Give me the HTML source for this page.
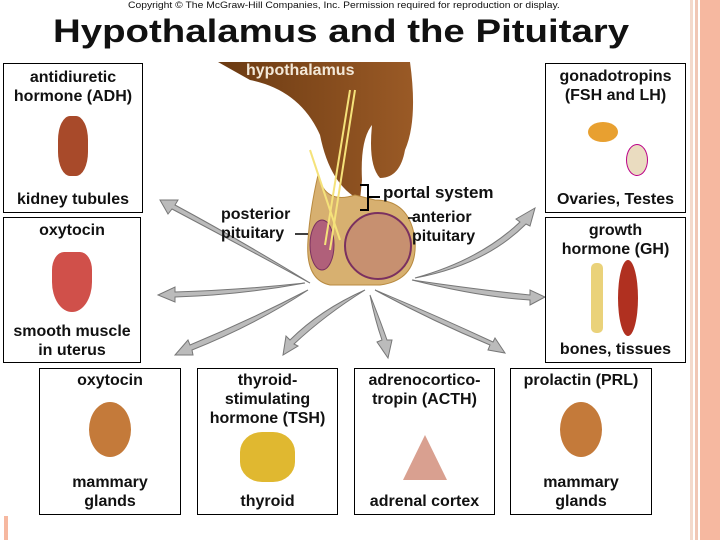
<!DOCTYPE html>
<html><head><meta charset="utf-8"><style>
body{margin:0;width:720px;height:540px;overflow:hidden;background:#fff;font-family:"Liberation Sans",Arial,sans-serif;position:relative}
.box{position:absolute;border:1.5px solid #000;background:#fff;box-sizing:border-box;text-align:center;font-weight:bold;font-size:16px;line-height:19px;color:#111}
.t{position:absolute;font-weight:bold;color:#111}
</style></head><body>
<div class="t" style="left:128px;top:0;font-size:9px;font-weight:normal;transform:scaleX(1.15);transform-origin:left top;white-space:nowrap">Copyright © The McGraw-Hill Companies, Inc. Permission required for reproduction or display.</div>
<div class="t" style="left:53px;top:13px;font-size:32px;transform:scaleX(1.2);transform-origin:left top;white-space:nowrap">Hypothalamus and the Pituitary</div>
<div style="position:absolute;left:690px;top:0;width:3px;height:540px;background:#f3d9cc"></div>
<div style="position:absolute;left:695px;top:0;width:3px;height:540px;background:#f0c7b6"></div>
<div style="position:absolute;left:700px;top:0;width:20px;height:540px;background:#f6b8a0"></div>
<div style="position:absolute;left:4px;top:516px;width:4px;height:24px;background:#f6b8a0"></div>
<svg width="720" height="540" style="position:absolute;left:0;top:0">
<defs><linearGradient id="g" x1="0" x2="1"><stop offset="0" stop-color="#6b3a12"/><stop offset="1" stop-color="#9a5a26"/></linearGradient></defs>
<path d="M218 62 L410 62 Q418 120 405 150 Q400 178 380 178 Q368 165 372 125 Q360 140 362 180 L360 200 Q330 185 320 135 Q300 90 250 80 Z" fill="url(#g)"/>
<path d="M318 175 Q325 205 355 195 L375 200 Q410 200 415 240 Q418 280 380 285 L330 285 Q305 280 308 240 Q310 210 318 175Z" fill="#d7b070" stroke="#b88a40"/>
<ellipse cx="378" cy="246" rx="33" ry="33" fill="#c79070" stroke="#7a3060" stroke-width="2"/>
<ellipse cx="322" cy="245" rx="12" ry="25" fill="#b0607a" stroke="#7a3060"/>
<g stroke="#f5e27a" stroke-width="2" fill="none"><path d="M355 90 L330 250"/><path d="M350 90 L325 245"/><path d="M310 150 L340 240"/></g>
<g fill="#bbb" stroke="#777" stroke-width="1">
<path d="M310 283 Q240 240 175 205 L178 200 L160 200 L168 214 L172 209 Q240 245 310 283Z"/>
<path d="M305 283 Q240 290 175 292 L175 287 L158 295 L175 302 L175 297 Q240 295 305 283Z"/>
<path d="M308 290 Q250 320 190 345 L188 340 L175 355 L193 355 L192 350 Q255 325 308 290Z"/>
<path d="M365 290 Q320 310 290 340 L286 336 L283 355 L298 346 L294 344 Q325 315 365 290Z"/>
<path d="M370 295 Q375 320 382 340 L377 342 L388 358 L392 340 L387 340 Q380 320 370 295Z"/>
<path d="M375 290 Q430 320 490 345 L488 350 L505 353 L495 338 L493 342 Q435 315 375 290Z"/>
<path d="M412 280 Q480 290 530 295 L530 290 L545 297 L530 305 L530 300 Q480 297 412 280Z"/>
<path d="M415 278 Q480 260 520 222 L516 219 L535 208 L530 226 L526 224 Q485 265 415 278Z"/>
</g>
<path d="M360 185 L368 185 L368 210 L360 210 M368 197 L380 197" stroke="#000" stroke-width="2" fill="none"/>
<path d="M295 234 L308 234 M415 218 L408 218" stroke="#000" stroke-width="1.5"/>
</svg>
<div class="t" style="left:246px;top:62px;font-size:16px;color:#f3e8d8">hypothalamus</div>
<div class="t" style="left:383px;top:183px;font-size:17px">portal system</div>
<div class="t" style="left:221px;top:205px;font-size:16px;line-height:19px">posterior<br>pituitary</div>
<div class="t" style="left:412px;top:208px;font-size:16px;line-height:19px">anterior<br>pituitary</div>

<div class="box" style="left:3px;top:63px;width:140px;height:150px"><div style="margin-top:4px">antidiuretic<br>hormone (ADH)</div>
<div style="margin:10px auto 0;width:30px;height:60px;border-radius:40%;background:#a84a2a"></div><div style="position:absolute;bottom:3px;width:100%">kidney tubules</div></div>
<div class="box" style="left:3px;top:217px;width:138px;height:146px"><div style="margin-top:3px">oxytocin</div>
<div style="margin:12px auto 0;width:40px;height:60px;border-radius:30% 30% 50% 50%;background:#d0504a"></div><div style="position:absolute;bottom:2px;width:100%">smooth muscle<br>in uterus</div></div>
<div class="box" style="left:545px;top:63px;width:141px;height:150px"><div style="margin-top:3px">gonadotropins<br>(FSH and LH)</div>
<div style="position:absolute;left:42px;top:58px;width:30px;height:20px;border-radius:50%;background:#e8a030"></div><div style="position:absolute;left:80px;top:80px;width:20px;height:30px;border-radius:50%;background:#eadcc0;border:1px solid #b08"></div><div style="position:absolute;bottom:3px;width:100%">Ovaries, Testes</div></div>
<div class="box" style="left:545px;top:217px;width:141px;height:146px"><div style="margin-top:3px">growth<br>hormone (GH)</div>
<div style="position:absolute;left:45px;top:45px;width:12px;height:70px;background:#ead27a;border-radius:5px"></div><div style="position:absolute;left:72px;top:42px;width:20px;height:76px;background:#b03020;border-radius:50%"></div><div style="position:absolute;bottom:3px;width:100%">bones, tissues</div></div>

<div class="box" style="left:39px;top:368px;width:142px;height:147px"><div style="margin-top:2px">oxytocin</div>
<div style="margin:12px auto 0;width:42px;height:55px;border-radius:50%;background:#c47a3a"></div><div style="position:absolute;bottom:3px;width:100%">mammary<br>glands</div></div>
<div class="box" style="left:197px;top:368px;width:141px;height:147px"><div style="margin-top:2px">thyroid-<br>stimulating<br>hormone (TSH)</div>
<div style="margin:4px auto 0;width:55px;height:50px;border-radius:40%;background:#e0b830"></div><div style="position:absolute;bottom:3px;width:100%">thyroid</div></div>
<div class="box" style="left:354px;top:368px;width:141px;height:147px"><div style="margin-top:2px">adrenocortico-<br>tropin (ACTH)</div>
<div style="margin:26px auto 0;width:0;height:0;border-left:22px solid transparent;border-right:22px solid transparent;border-bottom:45px solid #d9a090"></div><div style="position:absolute;bottom:3px;width:100%">adrenal cortex</div></div>
<div class="box" style="left:510px;top:368px;width:142px;height:147px"><div style="margin-top:2px">prolactin (PRL)</div>
<div style="margin:12px auto 0;width:42px;height:55px;border-radius:50%;background:#c47a3a"></div><div style="position:absolute;bottom:3px;width:100%">mammary<br>glands</div></div>
</body></html>
